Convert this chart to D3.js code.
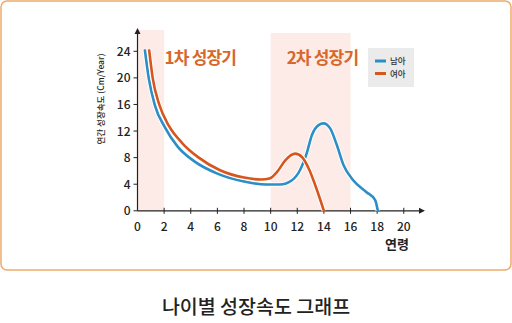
<!DOCTYPE html>
<html><head><meta charset="utf-8">
<script src="https://cdn.jsdelivr.net/npm/d3@7"></script>
<style>html,body{margin:0;padding:0;background:#fff;}svg{display:block;}</style>
</head><body>
<svg id="c" width="512" height="323"></svg>
<script>
const xTicks = [0,2,4,6,8,10,12,14,16,18,20];
const yTicks = [0,4,8,12,16,20,24];
const seriesNames = ["남아","여아"];
const boys = [[0.56,24.1],[0.84,20],[1.3,15.9],[2.05,12.6],[3.0,9.7],[4.3,7.4],[6.0,5.6],[8.0,4.4],[9.7,3.95],[10.7,3.95],[11.6,4.6],[12.2,6.1],[12.7,8.6],[13.1,11.4],[13.6,12.9],[13.97,13.15],[14.47,12.4],[14.97,9.9],[15.47,6.9],[16.2,4.6],[17.2,2.8],[17.85,1.6],[18.05,0]];
const girls = [[0.88,24.1],[1.14,20],[1.65,15.9],[2.35,12.8],[3.35,10.2],[4.6,8.0],[6.2,6.1],[8.0,5.0],[9.3,4.7],[9.9,4.85],[10.5,5.9],[11.1,7.6],[11.84,8.6],[12.35,8.1],[12.85,6.4],[13.35,3.85],[14.0,0]];
const bands = [[0,2,"1차 성장기"],[10,16,"2차 성장기"]];
const colors = ["#2b8ec6","#d6561e"];

const svg = d3.select("#c");
const font = "'Noto Sans CJK KR','Noto Sans',sans-serif";
svg.append("rect").attr("x",1).attr("y",1).attr("width",510).attr("height",269).attr("rx",6)
  .attr("fill","#fff").attr("stroke","#eeaa6a").attr("stroke-width",1.5);

const x = d3.scaleLinear().domain([0,20]).range([137.5,403.8]);
const y = d3.scaleLinear().domain([0,24]).range([210.8,51.3]);

// bands
const bandTop = [30,33];
bands.forEach((b,i)=>{
  svg.append("rect").attr("x",x(b[0])).attr("y",bandTop[i]).attr("width",x(b[1])-x(b[0]))
    .attr("height",y(0)-bandTop[i]).attr("fill","#fcebe6");
});
// band labels
svg.append("text").attr("x",x(0)+27).attr("y",63.5).text(bands[0][2])
  .attr("font-family",font).attr("font-size",17).attr("font-weight",700).attr("fill","#d8672a").attr("letter-spacing",-0.8);
svg.append("text").attr("x",x(11.2)).attr("y",63.5).text(bands[1][2])
  .attr("font-family",font).attr("font-size",17).attr("font-weight",700).attr("fill","#d8672a").attr("letter-spacing",-0.8);

// axes
const g = svg.append("g").attr("font-family",font);
g.append("line").attr("x1",x(0)).attr("x2",x(0)).attr("y1",y(0)).attr("y2",32).attr("stroke","#222").attr("stroke-width",1.2);
g.append("path").attr("d",`M${x(0)-3},34 L${x(0)},28 L${x(0)+3},34 Z`).attr("fill","#222");
g.append("line").attr("x1",x(0)).attr("x2",421).attr("y1",y(0)).attr("y2",y(0)).attr("stroke","#222").attr("stroke-width",1.2);
g.append("path").attr("d",`M419,${y(0)-3} L425,${y(0)} L419,${y(0)+3} Z`).attr("fill","#222");

xTicks.forEach(t=>{
  if(t>0) g.append("line").attr("x1",x(t)).attr("x2",x(t)).attr("y1",y(0)-3).attr("y2",y(0)+3).attr("stroke","#222");
  g.append("text").attr("x",x(t)).attr("y",230.5).attr("text-anchor","middle").text(t)
    .attr("font-size",12).attr("font-weight",500).attr("fill","#222");
});
yTicks.forEach(t=>{
  g.append("line").attr("x1",x(0)-4).attr("x2",x(0)).attr("y1",y(t)).attr("y2",y(t)).attr("stroke","#222");
  g.append("text").attr("x",x(0)-7).attr("y",y(t)+4.5).attr("text-anchor","end").text(t)
    .attr("font-size",12).attr("font-weight",500).attr("fill","#222");
});
g.append("text").attr("x",409).attr("y",249).attr("text-anchor","end").text("연령")
  .attr("font-size",13).attr("font-weight",700).attr("fill","#222");
g.append("text").attr("transform","translate(104,99) rotate(-90)").attr("text-anchor","middle")
  .text("연간 성장속도 (Cm/Year)").attr("font-size",8.5).attr("font-weight",500).attr("fill","#222");

// lines
const line = d3.line().x(d=>x(d[0])).y(d=>y(d[1])).curve(d3.curveMonotoneX);
[boys,girls].forEach((s,i)=>{
  svg.append("path").attr("d",line(s)).attr("fill","none").attr("stroke","#fff").attr("stroke-width",4.5);
  svg.append("path").attr("d",line(s)).attr("fill","none").attr("stroke",colors[i]).attr("stroke-width",2.6).attr("stroke-linecap","round");
});

// legend
svg.append("rect").attr("x",368).attr("y",48).attr("width",46).attr("height",39).attr("fill","#ebebeb");
seriesNames.forEach((n,i)=>{
  const ly = 61 + i*12.5;
  svg.append("line").attr("x1",375).attr("x2",386).attr("y1",ly).attr("y2",ly).attr("stroke",colors[i]).attr("stroke-width",3);
  svg.append("text").attr("x",390).attr("y",ly+3).text(n).attr("font-family",font).attr("font-size",8.5).attr("font-weight",500).attr("fill","#333");
});

// title
svg.append("text").attr("x",256).attr("y",314).attr("text-anchor","middle").text("나이별 성장속도 그래프")
  .attr("font-family",font).attr("font-size",19.5).attr("font-weight",500).attr("fill","#222");
</script>
</body></html>
